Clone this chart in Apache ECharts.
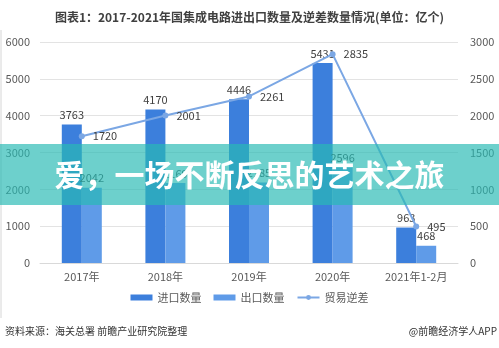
<!DOCTYPE html>
<html><head><meta charset="utf-8">
<script src="https://cdn.jsdelivr.net/npm/echarts@6/dist/echarts.min.js"></script>
<style>html,body{margin:0;padding:0;background:#fff}#c{width:499px;height:348px}</style>
</head><body><div id="c"></div>
<script>
const categories = ['2017年','2018年','2019年','2020年','2021年1-2月'];
const importVals = [3763, 4170, 4446, 5431, 963];
const exportVals = [2042, 2169, 2185, 2596, 468];
const deficitVals = [1720, 2001, 2261, 2835, 495];
const seriesNames = ['进口数量','出口数量','贸易逆差'];
const titleText = '图表1：2017-2021年国集成电路进出口数量及逆差数量情况(单位：亿个)';
const bannerText = '爱，一场不断反思的艺术之旅';
const sourceText = '资料来源：海关总署 前瞻产业研究院整理';
const creditText = '@前瞻经济学人APP';

const FONT = '"Noto Sans CJK SC", "Noto Sans", sans-serif';
const chart = echarts.init(document.getElementById('c'), null, {renderer:'canvas'});
const lbl = {show:true, position:'top', color:'#404040', fontSize:11, fontFamily:FONT, distance:4};
const plain = v => String(v);
chart.setOption({
  animation:false,
  textStyle:{fontFamily:FONT},
  title:{text:titleText, left:'center', top:6, textStyle:{fontSize:12, fontWeight:'bold', color:'#404040', fontFamily:FONT}},
  grid:{left:40, right:41, top:42, bottom:85, containLabel:false},
  legend:{bottom:40, left:'center', itemWidth:22, itemHeight:6, itemGap:12,
    textStyle:{fontSize:11, color:'#595959', fontFamily:FONT},
    data:[{name:seriesNames[0], icon:'rect'},{name:seriesNames[1], icon:'rect'},{name:seriesNames[2]}]},
  xAxis:{type:'category', data:categories,
    axisLine:{lineStyle:{color:'#d9d9d9'}}, axisTick:{show:false},
    axisLabel:{color:'#595959', fontSize:11, margin:8, fontFamily:FONT}},
  yAxis:[
    {type:'value', min:0, max:6000, interval:1000, axisLine:{show:false}, axisTick:{show:false},
     splitLine:{lineStyle:{color:'#e3e3e3'}}, axisLabel:{color:'#595959', fontSize:11, margin:10, fontFamily:FONT, formatter:plain}},
    {type:'value', min:0, max:3000, interval:500, axisLine:{show:false}, axisTick:{show:false},
     splitLine:{show:false}, axisLabel:{color:'#595959', fontSize:11, margin:12, fontFamily:FONT, formatter:plain}}
  ],
  series:[
    {name:seriesNames[0], type:'bar', data:importVals, barWidth:20, barGap:'0%', itemStyle:{color:'#3c7fdc'}, label:lbl},
    {name:seriesNames[1], type:'bar', data:exportVals, barWidth:20, barGap:'0%', itemStyle:{color:'#5f9be8'}, label:lbl},
    {name:seriesNames[2], type:'line', yAxisIndex:1, data:deficitVals, symbol:'circle', symbolSize:6,
     lineStyle:{color:'#7ba7e4', width:2}, itemStyle:{color:'#7ba7e4'},
     label:{show:true, position:'right', color:'#404040', fontSize:11, fontFamily:FONT, distance:8}, z:5}
  ],
  graphic:[
    {type:'line', shape:{x1:1, y1:30, x2:1, y2:318}, style:{stroke:'#d6d6d6', lineWidth:1}, z:1},
    {type:'rect', shape:{x:0, y:144, width:499, height:61}, style:{fill:'rgba(40,185,180,0.68)'}, z:100},
    {type:'text', x:249.5, y:175, style:{text:bannerText, fill:'#ffffff', font:'bold 30px ' + FONT, textAlign:'center', textVerticalAlign:'middle'}, z:101},
    {type:'text', x:5, y:331, style:{text:sourceText, fill:'#333333', font:'10px ' + FONT, textVerticalAlign:'middle'}, z:50},
    {type:'text', x:497, y:331, style:{text:creditText, fill:'#333333', font:'10px ' + FONT, textAlign:'right', textVerticalAlign:'middle'}, z:50}
  ]
});
</script></body></html>
